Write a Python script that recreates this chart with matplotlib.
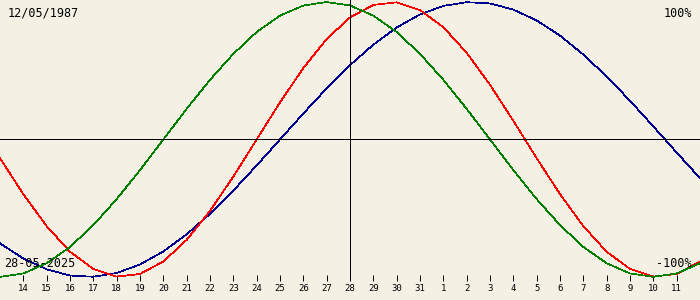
import matplotlib
matplotlib.use("Agg")
import matplotlib.pyplot as plt
import numpy as np

# birth date / current date
birth = "12/05/1987"
today = "28-05-2025"
today_day = 28

# days of month shown (13 May .. 12 June)
days = [13, 14, 15, 16, 17, 18, 19, 20, 21, 22, 23, 24, 25, 26, 27, 28,
        29, 30, 31, 1, 2, 3, 4, 5, 6, 7, 8, 9, 10, 11, 12]

# physical (red)
physical = [-0.136, -0.398, -0.631, -0.817, -0.942, -0.998, -0.979, -0.888,
            -0.731, -0.520, -0.270, 0.0, 0.270, 0.520, 0.731, 0.888, 0.979,
            0.998, 0.942, 0.817, 0.631, 0.398, 0.136, -0.136, -0.398, -0.631,
            -0.817, -0.942, -0.998, -0.979, -0.888]
# emotional (green)
emotional = [-1.0, -0.975, -0.901, -0.782, -0.623, -0.434, -0.223, 0.0, 0.223,
             0.434, 0.623, 0.782, 0.901, 0.975, 1.0, 0.975, 0.901, 0.782,
             0.623, 0.434, 0.223, 0.0, -0.223, -0.434, -0.623, -0.782, -0.901,
             -0.975, -1.0, -0.975, -0.901]
# intellectual (blue)
intellectual = [-0.756, -0.866, -0.945, -0.990, -0.999, -0.972, -0.910, -0.815,
                -0.690, -0.541, -0.372, -0.189, 0.0, 0.189, 0.372, 0.541, 0.690,
                0.815, 0.910, 0.972, 0.999, 0.990, 0.945, 0.866, 0.756, 0.618,
                0.458, 0.282, 0.095, -0.095, -0.282]

bg = "#f4f0e4"
x = np.arange(len(days))
fig = plt.figure(figsize=(7, 3), dpi=100, facecolor=bg)
ax = fig.add_axes([0, 19/300, 1, 281/300])
ax.set_facecolor(bg)

ax.plot(x, intellectual, color="#000090", lw=0.5, antialiased=False)
ax.plot(x, physical, color="#ff0000", lw=0.5, antialiased=False)
ax.plot(x, emotional, color="#008000", lw=0.5, antialiased=False)

ax.axhline(0, color="black", lw=0.6, antialiased=False)
ax.axvline(days.index(today_day), color="black", lw=0.6, antialiased=False)

ax.set_xlim(0, len(days) - 1)
ax.set_ylim(-1.03, 1.015)
for s in ax.spines.values():
    s.set_visible(False)
ax.set_yticks([])
ax.set_xticks(x[1:-1])
ax.set_xticklabels([str(d) for d in days[1:-1]], fontsize=6.5, family="DejaVu Sans Mono")
ax.tick_params(axis="x", direction="in", length=4.5, width=0.7, pad=2.5)

mono = "DejaVu Sans Mono"
fig.text(8/700, 1 - 17/300, birth, fontsize=8.5, family=mono)
fig.text(692/700, 1 - 17/300, "100%", fontsize=8.5, family=mono, ha="right")
fig.text(4/700, 1 - 267/300, today, fontsize=8.5, family=mono)
fig.text(692/700, 1 - 267/300, "-100%", fontsize=8.5, family=mono, ha="right")

fig.savefig("out.png", dpi=100, facecolor=bg)
